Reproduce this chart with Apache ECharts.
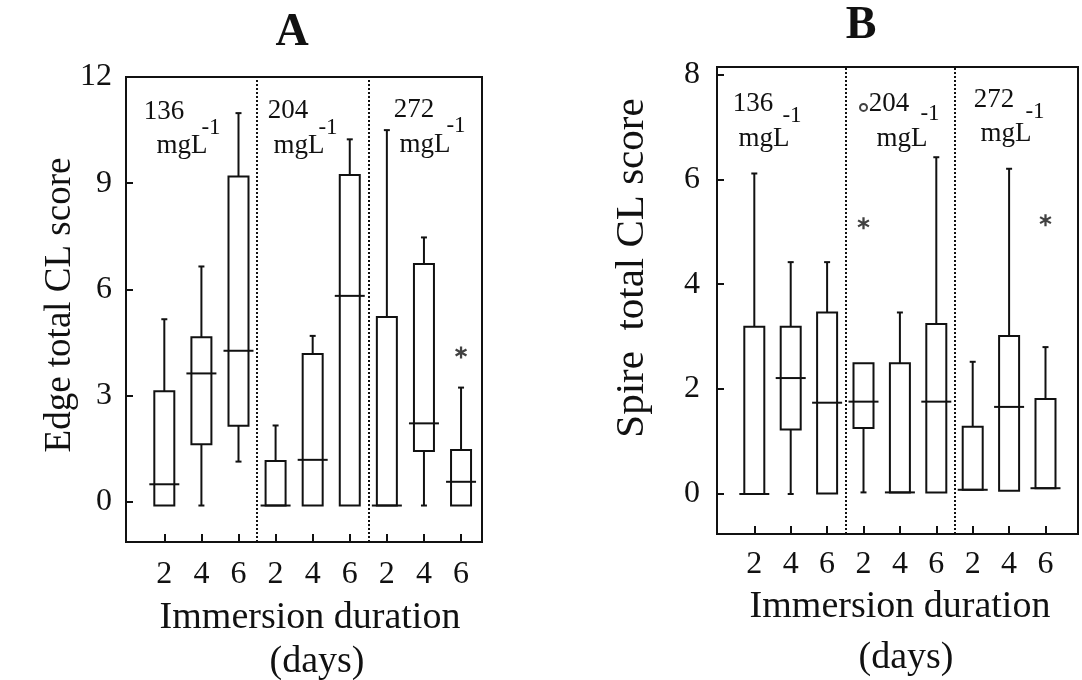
<!DOCTYPE html>
<html>
<head>
<meta charset="utf-8">
<title>Edge and spire total CL score</title>
<script src="https://cdn.jsdelivr.net/npm/echarts@6/dist/echarts.min.js"></script>
<style>
html, body { margin: 0; padding: 0; background: #fff; }
#main { width: 1082px; height: 680px; }
</style>
</head>
<body>
<div id="main"></div>
<script>
// immersion duration (days) under each box, three concentrations
var durations = ['2', '4', '6', '2', '4', '6', '2', '4', '6'];
var concentrations = ['136', '204', '272'];
var edgeTicks = [0, 3, 6, 9, 12];
var spireTicks = [0, 2, 4, 6, 8];

// panel A : edge total CL score
var edgeMin = [-0.1, -0.1, 1.14, -0.1, -0.1, -0.1, -0.1, -0.1, -0.1];
var edgeQ1  = [-0.1, 1.63, 2.15, -0.1, -0.1, -0.1, -0.1, 1.44, -0.1];
var edgeMed = [0.50, 3.63, 4.27, -0.1, 1.19, 5.82, -0.1, 2.22, 0.57];
var edgeQ3  = [3.13, 4.65, 9.19, 1.16, 4.18, 9.23, 5.22, 6.72, 1.47];
var edgeMax = [5.16, 6.65, 10.98, 2.16, 4.69, 10.24, 10.50, 7.47, 3.23];
var edgeStars = [[9, 4.22]];

// panel B : spire total CL score
var spireMin = [0, 0, 0.01, 0.03, 0.03, 0.03, 0.08, 0.06, 0.11];
var spireQ1  = [0, 1.23, 0.01, 1.26, 0.03, 0.03, 0.08, 0.06, 0.11];
var spireMed = [0, 2.21, 1.74, 1.76, 0.03, 1.76, 0.08, 1.66, 0.11];
var spireQ3  = [3.19, 3.19, 3.46, 2.49, 2.49, 3.24, 1.28, 3.01, 1.81];
var spireMax = [6.11, 4.42, 4.42, 2.49, 3.46, 6.42, 2.52, 6.20, 2.80];
var spireStars = [[4, 5.16], [9, 5.22]];
var spireCircles = [[4, 7.37]];

var FONT = 'Liberation Serif';
var INK = '#111';
// six-armed asterisk, three crossed bars
var STAR = 'path://M4.1 0L5.9 0L5.9 10L4.1 10Z M1.12 1.72L9.78 6.72L8.88 8.28L0.22 3.28Z M8.88 1.72L9.78 3.28L1.12 8.28L0.22 6.72Z';

function boxRows(mins, q1s, meds, q3s, maxs) {
	var rows = [];
	for (var i = 0; i < meds.length; i++) {
		rows.push([i + 1, mins[i], q1s[i], meds[i], q3s[i], maxs[i]]);
	}
	return rows;
}

function renderBox(params, api) {
	var x = api.value(0);
	var pMin = api.coord([x, api.value(1)]);
	var pQ1 = api.coord([x, api.value(2)]);
	var pMed = api.coord([x, api.value(3)]);
	var pQ3 = api.coord([x, api.value(4)]);
	var pMax = api.coord([x, api.value(5)]);
	var cx = pQ1[0];
	var bw = 20, mw = 30, cw = 6;
	var line = { stroke: INK, lineWidth: 2 };
	var kids = [{
		type: 'rect',
		shape: { x: cx - bw / 2, y: pQ3[1], width: bw, height: pQ1[1] - pQ3[1] },
		style: { stroke: INK, lineWidth: 2, fill: 'transparent' }
	}, {
		type: 'line',
		shape: { x1: cx - mw / 2, y1: pMed[1], x2: cx + mw / 2, y2: pMed[1] },
		style: line
	}];
	if (pQ3[1] - pMax[1] > 1) {
		kids.push({ type: 'line', shape: { x1: cx, y1: pQ3[1], x2: cx, y2: pMax[1] }, style: line });
		kids.push({ type: 'line', shape: { x1: cx - cw / 2, y1: pMax[1], x2: cx + cw / 2, y2: pMax[1] }, style: line });
	}
	if (pMin[1] - pQ1[1] > 1) {
		kids.push({ type: 'line', shape: { x1: cx, y1: pQ1[1], x2: cx, y2: pMin[1] }, style: line });
		kids.push({ type: 'line', shape: { x1: cx - cw / 2, y1: pMin[1], x2: cx + cw / 2, y2: pMin[1] }, style: line });
	}
	return { type: 'group', children: kids };
}

function xAxisFor(idx, min, max, margin) {
	return {
		type: 'value',
		gridIndex: idx,
		min: min,
		max: max,
		splitLine: { show: false },
		axisLine: { show: true, onZero: false, lineStyle: { color: INK, width: 2 } },
		axisTick: { show: true, inside: true, length: 8, customValues: [1, 2, 3, 4, 5, 6, 7, 8, 9], lineStyle: { color: INK, width: 2 } },
		axisLabel: {
			customValues: [1, 2, 3, 4, 5, 6, 7, 8, 9],
			formatter: function(v) { return durations[Math.round(v) - 1]; },
			margin: margin,
			color: INK,
			fontFamily: FONT,
			fontSize: 32
		}
	};
}

function yAxisFor(idx, min, max, ticks, margin) {
	return {
		type: 'value',
		gridIndex: idx,
		min: min,
		max: max,
		splitLine: { show: false },
		axisLine: { show: true, onZero: false, lineStyle: { color: INK, width: 2 } },
		axisTick: { show: true, inside: true, length: 7, customValues: ticks, lineStyle: { color: INK, width: 2 } },
		axisLabel: { customValues: ticks, margin: margin, color: INK, fontFamily: FONT, fontSize: 32 }
	};
}

function separators() {
	return {
		silent: true,
		symbol: ['none', 'none'],
		label: { show: false },
		lineStyle: { color: INK, type: [2, 2], width: 2 },
		data: [{ xAxis: 3.5 }, { xAxis: 6.5 }]
	};
}

function txt(x, y, s, size, extra) {
	var o = {
		type: 'text',
		x: x,
		y: y,
		style: { text: s, fill: INK, font: size + 'px "' + FONT + '"', textAlign: 'center', textVerticalAlign: 'middle' }
	};
	if (extra) {
		for (var k in extra) o[k] = extra[k];
	}
	return o;
}

// concentration labels inside each panel (number, mgL, superscript -1)
var concPosA = [[164, 112, 182, 146, 211, 128], [288, 111, 299, 146, 328, 128], [414, 110, 425, 145, 456, 126]];
var concPosB = [[753, 104, 764, 139, 792, 116], [889, 104, 902, 139, 930, 114], [994, 100, 1006, 134, 1035, 112]];
var graphics = [
	{ type: 'text', x: 292, y: 33, style: { text: 'A', fill: INK, font: 'bold 46px "' + FONT + '"', textAlign: 'center', textVerticalAlign: 'middle' } },
	{ type: 'text', x: 861, y: 26, style: { text: 'B', fill: INK, font: 'bold 46px "' + FONT + '"', textAlign: 'center', textVerticalAlign: 'middle' } },
	txt(60, 305, 'Edge total CL score', 37, { rotation: Math.PI / 2 }),
	txt(632, 268, 'Spire  total CL score', 41, { rotation: Math.PI / 2 }),
	txt(310, 618, 'Immersion duration', 38),
	txt(317, 662, '(days)', 38),
	txt(900, 607, 'Immersion duration', 38),
	txt(906, 658, '(days)', 38)
];
[concPosA, concPosB].forEach(function(pos) {
	for (var i = 0; i < concentrations.length; i++) {
		var p = pos[i];
		graphics.push(txt(p[0], p[1], concentrations[i], 27));
		graphics.push(txt(p[2], p[3], 'mgL', 27));
		graphics.push(txt(p[4], p[5], '-1', 23));
	}
});

var chart = echarts.init(document.getElementById('main'));
chart.setOption({
	animation: false,
	backgroundColor: '#fff',
	grid: [
		{ left: 126, top: 77, width: 356, height: 465, show: true, borderColor: INK, borderWidth: 2, backgroundColor: 'transparent' },
		{ left: 717, top: 67, width: 361, height: 467, show: true, borderColor: INK, borderWidth: 2, backgroundColor: 'transparent' }
	],
	xAxis: [xAxisFor(0, -0.033, 9.565, 17), xAxisFor(1, -0.025, 9.893, 15)],
	yAxis: [yAxisFor(0, -1.13, 12.0, edgeTicks, 14), yAxisFor(1, -0.763, 8.14, spireTicks, 17)],
	series: [{
		name: 'Edge',
		type: 'custom',
		xAxisIndex: 0,
		yAxisIndex: 0,
		renderItem: renderBox,
		encode: { x: 0, y: [1, 2, 3, 4, 5] },
		data: boxRows(edgeMin, edgeQ1, edgeMed, edgeQ3, edgeMax),
		markLine: separators()
	}, {
		name: 'Spire',
		type: 'custom',
		xAxisIndex: 1,
		yAxisIndex: 1,
		renderItem: renderBox,
		encode: { x: 0, y: [1, 2, 3, 4, 5] },
		data: boxRows(spireMin, spireQ1, spireMed, spireQ3, spireMax),
		markLine: separators()
	}, {
		type: 'scatter',
		xAxisIndex: 0,
		yAxisIndex: 0,
		symbol: STAR,
		symbolSize: 12,
		itemStyle: { color: INK },
		data: edgeStars
	}, {
		type: 'scatter',
		xAxisIndex: 1,
		yAxisIndex: 1,
		symbol: STAR,
		symbolSize: 12,
		itemStyle: { color: INK },
		data: spireStars
	}, {
		type: 'scatter',
		xAxisIndex: 1,
		yAxisIndex: 1,
		symbol: 'emptyCircle',
		symbolSize: 7,
		itemStyle: { color: INK, borderWidth: 1.5 },
		data: spireCircles
	}],
	graphic: graphics
});
</script>
</body>
</html>
